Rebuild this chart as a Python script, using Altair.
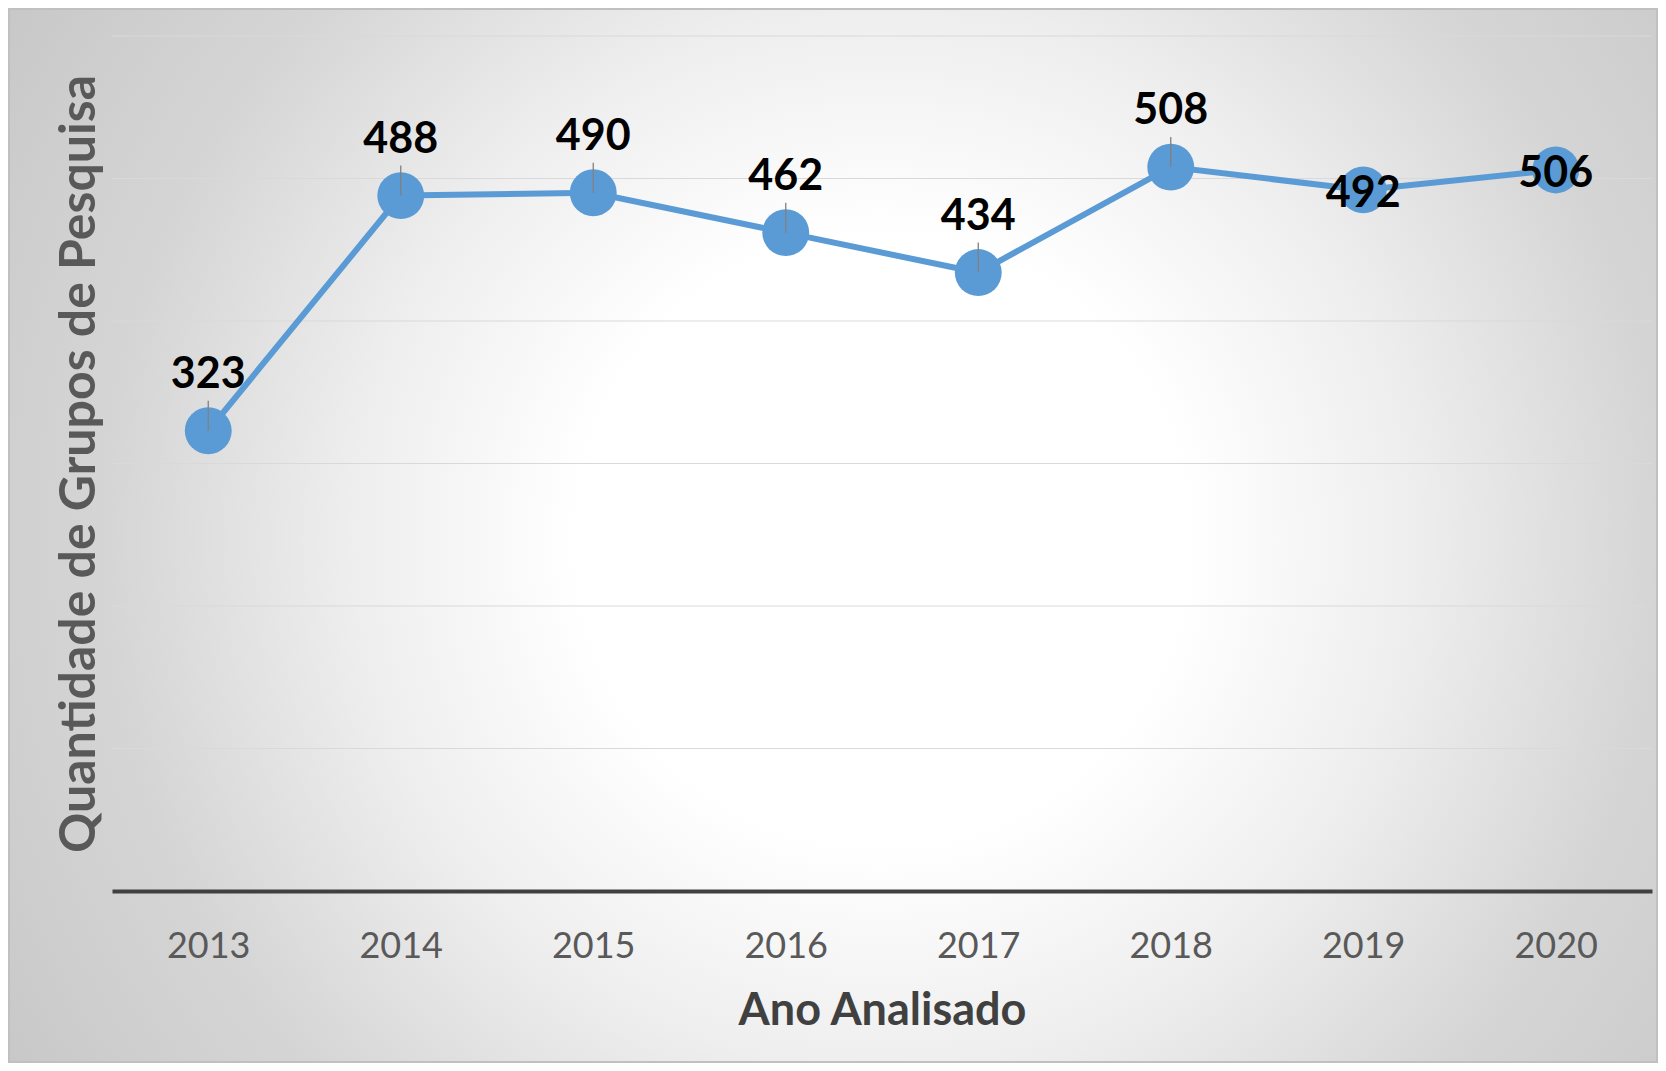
import altair as alt
import pandas as pd

# ---- data ----
anos = ["2013", "2014", "2015", "2016", "2017", "2018", "2019", "2020"]
grupos = [323, 488, 490, 462, 434, 508, 492, 506]
grid_values = [100, 200, 300, 400, 500, 600]

df = pd.DataFrame({"Ano": anos, "Grupos": grupos})
grid_df = pd.DataFrame({"v": grid_values})

W, H = 1540, 855
PAD = {"left": 104, "top": 28, "right": 6, "bottom": 172}
BLUE = "#5B9BD5"
FONT = "Lato"

x_enc = alt.X(
    "Ano:O",
    sort=anos,
    scale=alt.Scale(type="point", padding=0.5),
    axis=alt.Axis(
        title="Ano Analisado",
        labelAngle=0,
        ticks=False,
        grid=False,
        domainColor="#404040",
        domainWidth=4,
        labelFont=FONT,
        labelFontSize=36,
        labelColor="#595959",
        labelPadding=38,
        titleFont=FONT,
        titleFontSize=45,
        titleFontWeight="bold",
        titleColor="#404040",
        titleY=133,
        titleBaseline="alphabetic",
        zindex=1,
    ),
)
y_scale = alt.Scale(domain=[0, 600], nice=False, zero=True)
y_axis = alt.Axis(
    title="Quantidade de Grupos de Pesquisa",
    labels=False,
    ticks=False,
    domain=False,
    grid=False,
    titleFont=FONT,
    titleFontSize=50,
    titleFontWeight="bold",
    titleColor="#595959",
    titleAngle=-90,
    titleX=-18,
    titleY=H / 2,
    titleAlign="center",
    titleBaseline="alphabetic",
    zindex=1,
)
y_enc = alt.Y("Grupos:Q", scale=y_scale, axis=y_axis)

base = alt.Chart(df)

# background radial gradient (chart area)
bg = base.mark_rect(
    fill=alt.RadialGradient(
        gradient="radial",
        x1=0.5, y1=0.5, x2=0.5, y2=0.5, r1=0, r2=0.5,
        stops=[
            alt.GradientStop(offset=0, color="#ffffff"),
            alt.GradientStop(offset=0.3, color="#ffffff"),
            alt.GradientStop(offset=0.52, color="#eeeeee"),
            alt.GradientStop(offset=0.76, color="#d5d5d5"),
            alt.GradientStop(offset=0.86, color="#d0d0d0"),
            alt.GradientStop(offset=1.0, color="#c8c8c8"),
        ],
    ),
    stroke="transparent",
).encode(
    x=alt.value(-250), x2=alt.value(1790),
    y=alt.value(-516), y2=alt.value(1524),
)

grid = alt.Chart(grid_df).mark_rule(color="#d9d9d9", strokeWidth=1).encode(
    y=alt.Y("v:Q", scale=y_scale, axis=y_axis),
    x=alt.value(0), x2=alt.value(W),
)

line = base.mark_line(color=BLUE, strokeWidth=6).encode(x=x_enc, y=y_enc)
pts = base.mark_circle(color=BLUE, size=2200, opacity=1).encode(x=x_enc, y=y_enc)

above = ["2013", "2014", "2015", "2016", "2017", "2018"]
on_point = ["2019", "2020"]

leaders = base.transform_filter(
    alt.FieldOneOfPredicate(field="Ano", oneOf=above)
).mark_rule(color="#808080", strokeWidth=1.3, y2Offset=-30).encode(
    x=x_enc, y=y_enc, y2="Grupos:Q"
)

lab_above = base.transform_filter(
    alt.FieldOneOfPredicate(field="Ano", oneOf=above)
).mark_text(
    font=FONT, fontSize=43, fontWeight="bold", color="#000000",
    baseline="alphabetic", dy=-43,
).encode(x=x_enc, y=y_enc, text="Grupos:Q")

lab_on = base.transform_filter(
    alt.FieldOneOfPredicate(field="Ano", oneOf=on_point)
).mark_text(
    font=FONT, fontSize=43, fontWeight="bold", color="#000000",
    baseline="alphabetic", dy=17,
).encode(x=x_enc, y=y_enc, text="Grupos:Q")

frame = base.mark_rect(
    fillOpacity=0, stroke="#c0c0c0", strokeWidth=2
).encode(
    x=alt.value(-PAD["left"] + 1), x2=alt.value(W + PAD["right"] - 1),
    y=alt.value(-PAD["top"] + 1), y2=alt.value(H + PAD["bottom"] - 1),
)

chart = alt.layer(bg, grid, line, pts, leaders, lab_above, lab_on, frame).properties(
    width=W, height=H, autosize="none", padding=PAD, background="white"
).configure_view(stroke=None)

chart.save("out.html", embed_options={"renderer": "svg", "actions": False})
